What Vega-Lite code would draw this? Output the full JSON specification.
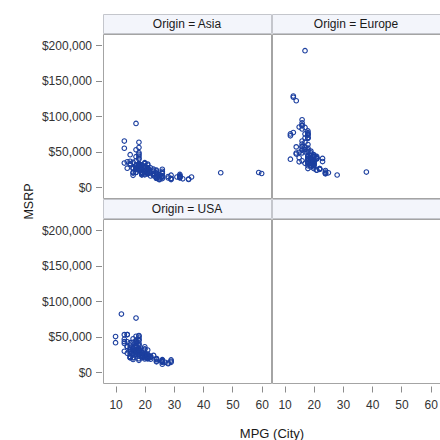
{
  "$schema": "https://vega.github.io/schema/vega-lite/v6.json",
  "background": "white",
  "padding": {"left": 21, "top": 13, "right": 0, "bottom": 0},
  "datasets": {
    "cars": [
      {"Origin":"Asia","MPG":17,"MSRP":36945},{"Origin":"Asia","MPG":24,"MSRP":23820},{"Origin":"Asia","MPG":22,"MSRP":26990},{"Origin":"Asia","MPG":20,"MSRP":33195},{"Origin":"Asia","MPG":18,"MSRP":43755},{"Origin":"Asia","MPG":18,"MSRP":46100},{"Origin":"Asia","MPG":17,"MSRP":89765},
      {"Origin":"Asia","MPG":46,"MSRP":20140},{"Origin":"Asia","MPG":60,"MSRP":19110},{"Origin":"Asia","MPG":36,"MSRP":14170},{"Origin":"Asia","MPG":32,"MSRP":13270},{"Origin":"Asia","MPG":32,"MSRP":15850},{"Origin":"Asia","MPG":32,"MSRP":17750},{"Origin":"Asia","MPG":26,"MSRP":19490},{"Origin":"Asia","MPG":26,"MSRP":19860},{"Origin":"Asia","MPG":26,"MSRP":22260},{"Origin":"Asia","MPG":21,"MSRP":26960},{"Origin":"Asia","MPG":21,"MSRP":23760},{"Origin":"Asia","MPG":21,"MSRP":18690},{"Origin":"Asia","MPG":21,"MSRP":19860},{"Origin":"Asia","MPG":17,"MSRP":27560},{"Origin":"Asia","MPG":18,"MSRP":24950},{"Origin":"Asia","MPG":18,"MSRP":27450},{"Origin":"Asia","MPG":20,"MSRP":33260},
      {"Origin":"Asia","MPG":29,"MSRP":10539},{"Origin":"Asia","MPG":29,"MSRP":11839},{"Origin":"Asia","MPG":29,"MSRP":11939},{"Origin":"Asia","MPG":26,"MSRP":13839},{"Origin":"Asia","MPG":26,"MSRP":15389},{"Origin":"Asia","MPG":26,"MSRP":15589},{"Origin":"Asia","MPG":19,"MSRP":19339},{"Origin":"Asia","MPG":19,"MSRP":20339},{"Origin":"Asia","MPG":17,"MSRP":24589},{"Origin":"Asia","MPG":17,"MSRP":26189},{"Origin":"Asia","MPG":20,"MSRP":21589},{"Origin":"Asia","MPG":19,"MSRP":18739},
      {"Origin":"Asia","MPG":18,"MSRP":28495},{"Origin":"Asia","MPG":18,"MSRP":29795},{"Origin":"Asia","MPG":18,"MSRP":32445},{"Origin":"Asia","MPG":19,"MSRP":31145},{"Origin":"Asia","MPG":17,"MSRP":42845},{"Origin":"Asia","MPG":17,"MSRP":52545},{"Origin":"Asia","MPG":16,"MSRP":34895},{"Origin":"Asia","MPG":15,"MSRP":36395},
      {"Origin":"Asia","MPG":15,"MSRP":31849},{"Origin":"Asia","MPG":17,"MSRP":20449},
      {"Origin":"Asia","MPG":23,"MSRP":16040},{"Origin":"Asia","MPG":20,"MSRP":18435},{"Origin":"Asia","MPG":25,"MSRP":10280},{"Origin":"Asia","MPG":26,"MSRP":11905},{"Origin":"Asia","MPG":24,"MSRP":12360},{"Origin":"Asia","MPG":24,"MSRP":13580},{"Origin":"Asia","MPG":24,"MSRP":14630},{"Origin":"Asia","MPG":16,"MSRP":19635},{"Origin":"Asia","MPG":16,"MSRP":20615},{"Origin":"Asia","MPG":17,"MSRP":26000},{"Origin":"Asia","MPG":25,"MSRP":11155},
      {"Origin":"Asia","MPG":21,"MSRP":32350},{"Origin":"Asia","MPG":18,"MSRP":41010},{"Origin":"Asia","MPG":18,"MSRP":48450},{"Origin":"Asia","MPG":18,"MSRP":55750},{"Origin":"Asia","MPG":18,"MSRP":31045},{"Origin":"Asia","MPG":18,"MSRP":32415},{"Origin":"Asia","MPG":18,"MSRP":32455},{"Origin":"Asia","MPG":18,"MSRP":63200},{"Origin":"Asia","MPG":15,"MSRP":45700},{"Origin":"Asia","MPG":13,"MSRP":64800},{"Origin":"Asia","MPG":18,"MSRP":39195},
      {"Origin":"Asia","MPG":19,"MSRP":21087},{"Origin":"Asia","MPG":26,"MSRP":15500},{"Origin":"Asia","MPG":25,"MSRP":17200},{"Origin":"Asia","MPG":24,"MSRP":19270},{"Origin":"Asia","MPG":18,"MSRP":28750},{"Origin":"Asia","MPG":23,"MSRP":22388},{"Origin":"Asia","MPG":23,"MSRP":25193},{"Origin":"Asia","MPG":18,"MSRP":25700},{"Origin":"Asia","MPG":18,"MSRP":27200},{"Origin":"Asia","MPG":24,"MSRP":14840},{"Origin":"Asia","MPG":17,"MSRP":29340},
      {"Origin":"Asia","MPG":15,"MSRP":33112},{"Origin":"Asia","MPG":21,"MSRP":18892},{"Origin":"Asia","MPG":17,"MSRP":30492},{"Origin":"Asia","MPG":25,"MSRP":14622},{"Origin":"Asia","MPG":25,"MSRP":16722},{"Origin":"Asia","MPG":23,"MSRP":19312},{"Origin":"Asia","MPG":18,"MSRP":25700},{"Origin":"Asia","MPG":18,"MSRP":29282},{"Origin":"Asia","MPG":18,"MSRP":29562},{"Origin":"Asia","MPG":25,"MSRP":17232},{"Origin":"Asia","MPG":25,"MSRP":17495},{"Origin":"Asia","MPG":21,"MSRP":25092},{"Origin":"Asia","MPG":21,"MSRP":26992},
      {"Origin":"Asia","MPG":28,"MSRP":12740},{"Origin":"Asia","MPG":28,"MSRP":14740},{"Origin":"Asia","MPG":23,"MSRP":17640},{"Origin":"Asia","MPG":21,"MSRP":19240},{"Origin":"Asia","MPG":21,"MSRP":23290},{"Origin":"Asia","MPG":20,"MSRP":27490},{"Origin":"Asia","MPG":20,"MSRP":29440},{"Origin":"Asia","MPG":19,"MSRP":24780},{"Origin":"Asia","MPG":18,"MSRP":32780},{"Origin":"Asia","MPG":20,"MSRP":26910},{"Origin":"Asia","MPG":20,"MSRP":34390},{"Origin":"Asia","MPG":16,"MSRP":27339},{"Origin":"Asia","MPG":13,"MSRP":33840},{"Origin":"Asia","MPG":17,"MSRP":20939},{"Origin":"Asia","MPG":20,"MSRP":28739},{"Origin":"Asia","MPG":19,"MSRP":17184},{"Origin":"Asia","MPG":14,"MSRP":26650},
      {"Origin":"Asia","MPG":32,"MSRP":12965},{"Origin":"Asia","MPG":31,"MSRP":14165},
      {"Origin":"Asia","MPG":22,"MSRP":19945},{"Origin":"Asia","MPG":21,"MSRP":20445},{"Origin":"Asia","MPG":21,"MSRP":25645},{"Origin":"Asia","MPG":21,"MSRP":23895},{"Origin":"Asia","MPG":19,"MSRP":27145},{"Origin":"Asia","MPG":18,"MSRP":29345},{"Origin":"Asia","MPG":18,"MSRP":31545},{"Origin":"Asia","MPG":20,"MSRP":25045},{"Origin":"Asia","MPG":18,"MSRP":31845},{"Origin":"Asia","MPG":21,"MSRP":20645},{"Origin":"Asia","MPG":21,"MSRP":24520},
      {"Origin":"Asia","MPG":25,"MSRP":12884},{"Origin":"Asia","MPG":25,"MSRP":14500},{"Origin":"Asia","MPG":24,"MSRP":16497},{"Origin":"Asia","MPG":24,"MSRP":12269},{"Origin":"Asia","MPG":22,"MSRP":15568},{"Origin":"Asia","MPG":20,"MSRP":17262},{"Origin":"Asia","MPG":19,"MSRP":17163},{"Origin":"Asia","MPG":18,"MSRP":23699},
      {"Origin":"Asia","MPG":59,"MSRP":20510},{"Origin":"Asia","MPG":32,"MSRP":14085},{"Origin":"Asia","MPG":32,"MSRP":15030},{"Origin":"Asia","MPG":32,"MSRP":15295},{"Origin":"Asia","MPG":35,"MSRP":10760},{"Origin":"Asia","MPG":33,"MSRP":11560},{"Origin":"Asia","MPG":35,"MSRP":11290},{"Origin":"Asia","MPG":24,"MSRP":19560},{"Origin":"Asia","MPG":21,"MSRP":22775},{"Origin":"Asia","MPG":21,"MSRP":25920},{"Origin":"Asia","MPG":24,"MSRP":19635},{"Origin":"Asia","MPG":21,"MSRP":21965},{"Origin":"Asia","MPG":21,"MSRP":26510},{"Origin":"Asia","MPG":21,"MSRP":26560},{"Origin":"Asia","MPG":21,"MSRP":30920},{"Origin":"Asia","MPG":24,"MSRP":22570},{"Origin":"Asia","MPG":26,"MSRP":25130},{"Origin":"Asia","MPG":29,"MSRP":16695},{"Origin":"Asia","MPG":19,"MSRP":23495},{"Origin":"Asia","MPG":19,"MSRP":28800},{"Origin":"Asia","MPG":22,"MSRP":20290},{"Origin":"Asia","MPG":18,"MSRP":27930},{"Origin":"Asia","MPG":18,"MSRP":27710},{"Origin":"Asia","MPG":14,"MSRP":35695},{"Origin":"Asia","MPG":13,"MSRP":54765},{"Origin":"Asia","MPG":24,"MSRP":12800},{"Origin":"Asia","MPG":16,"MSRP":16495},{"Origin":"Asia","MPG":16,"MSRP":25935},

      {"Origin":"Europe","MPG":22,"MSRP":25940},{"Origin":"Europe","MPG":23,"MSRP":35940},{"Origin":"Europe","MPG":20,"MSRP":31840},{"Origin":"Europe","MPG":17,"MSRP":33430},{"Origin":"Europe","MPG":18,"MSRP":34480},{"Origin":"Europe","MPG":20,"MSRP":36640},{"Origin":"Europe","MPG":18,"MSRP":39640},{"Origin":"Europe","MPG":20,"MSRP":42490},{"Origin":"Europe","MPG":18,"MSRP":44240},{"Origin":"Europe","MPG":18,"MSRP":42840},{"Origin":"Europe","MPG":17,"MSRP":49690},{"Origin":"Europe","MPG":17,"MSRP":69190},{"Origin":"Europe","MPG":14,"MSRP":48040},{"Origin":"Europe","MPG":15,"MSRP":84600},{"Origin":"Europe","MPG":20,"MSRP":35940},{"Origin":"Europe","MPG":20,"MSRP":37390},{"Origin":"Europe","MPG":21,"MSRP":40590},{"Origin":"Europe","MPG":18,"MSRP":40840},{"Origin":"Europe","MPG":15,"MSRP":49090},
      {"Origin":"Europe","MPG":16,"MSRP":37000},{"Origin":"Europe","MPG":16,"MSRP":52195},{"Origin":"Europe","MPG":20,"MSRP":28495},{"Origin":"Europe","MPG":20,"MSRP":30795},{"Origin":"Europe","MPG":19,"MSRP":30245},{"Origin":"Europe","MPG":20,"MSRP":35495},{"Origin":"Europe","MPG":20,"MSRP":36995},{"Origin":"Europe","MPG":20,"MSRP":37245},{"Origin":"Europe","MPG":19,"MSRP":39995},{"Origin":"Europe","MPG":19,"MSRP":44295},{"Origin":"Europe","MPG":20,"MSRP":44995},{"Origin":"Europe","MPG":18,"MSRP":54995},{"Origin":"Europe","MPG":18,"MSRP":69195},{"Origin":"Europe","MPG":18,"MSRP":73195},{"Origin":"Europe","MPG":16,"MSRP":48195},{"Origin":"Europe","MPG":16,"MSRP":56595},{"Origin":"Europe","MPG":20,"MSRP":33895},{"Origin":"Europe","MPG":21,"MSRP":41045},{"Origin":"Europe","MPG":19,"MSRP":32845},{"Origin":"Europe","MPG":19,"MSRP":37995},
      {"Origin":"Europe","MPG":18,"MSRP":29995},{"Origin":"Europe","MPG":18,"MSRP":33995},{"Origin":"Europe","MPG":18,"MSRP":43895},{"Origin":"Europe","MPG":18,"MSRP":49995},{"Origin":"Europe","MPG":17,"MSRP":63120},{"Origin":"Europe","MPG":18,"MSRP":68995},{"Origin":"Europe","MPG":18,"MSRP":59995},{"Origin":"Europe","MPG":17,"MSRP":74995},{"Origin":"Europe","MPG":18,"MSRP":69995},{"Origin":"Europe","MPG":18,"MSRP":74995},{"Origin":"Europe","MPG":16,"MSRP":81995},{"Origin":"Europe","MPG":16,"MSRP":86995},
      {"Origin":"Europe","MPG":12,"MSRP":72250},{"Origin":"Europe","MPG":12,"MSRP":39250},{"Origin":"Europe","MPG":18,"MSRP":25995},
      {"Origin":"Europe","MPG":13,"MSRP":76870},{"Origin":"Europe","MPG":14,"MSRP":46470},{"Origin":"Europe","MPG":20,"MSRP":26060},{"Origin":"Europe","MPG":19,"MSRP":28370},{"Origin":"Europe","MPG":20,"MSRP":32280},{"Origin":"Europe","MPG":19,"MSRP":33480},{"Origin":"Europe","MPG":19,"MSRP":35920},{"Origin":"Europe","MPG":20,"MSRP":37630},{"Origin":"Europe","MPG":16,"MSRP":52120},{"Origin":"Europe","MPG":19,"MSRP":38830},{"Origin":"Europe","MPG":16,"MSRP":94820},{"Origin":"Europe","MPG":13,"MSRP":128420},{"Origin":"Europe","MPG":20,"MSRP":45707},{"Origin":"Europe","MPG":17,"MSRP":52800},{"Origin":"Europe","MPG":19,"MSRP":48170},{"Origin":"Europe","MPG":16,"MSRP":57270},{"Origin":"Europe","MPG":18,"MSRP":74320},{"Origin":"Europe","MPG":16,"MSRP":86970},{"Origin":"Europe","MPG":16,"MSRP":90520},{"Origin":"Europe","MPG":14,"MSRP":121770},{"Origin":"Europe","MPG":13,"MSRP":126670},{"Origin":"Europe","MPG":23,"MSRP":40320},{"Origin":"Europe","MPG":17,"MSRP":56170},{"Origin":"Europe","MPG":19,"MSRP":33780},{"Origin":"Europe","MPG":19,"MSRP":50670},{"Origin":"Europe","MPG":16,"MSRP":60670},
      {"Origin":"Europe","MPG":28,"MSRP":16999},{"Origin":"Europe","MPG":25,"MSRP":19999},
      {"Origin":"Europe","MPG":14,"MSRP":56665},{"Origin":"Europe","MPG":18,"MSRP":79165},{"Origin":"Europe","MPG":17,"MSRP":84165},{"Origin":"Europe","MPG":18,"MSRP":76765},{"Origin":"Europe","MPG":17,"MSRP":192465},{"Origin":"Europe","MPG":20,"MSRP":43365},{"Origin":"Europe","MPG":18,"MSRP":52365},
      {"Origin":"Europe","MPG":20,"MSRP":30860},{"Origin":"Europe","MPG":20,"MSRP":33360},{"Origin":"Europe","MPG":18,"MSRP":35105},{"Origin":"Europe","MPG":21,"MSRP":39465},{"Origin":"Europe","MPG":21,"MSRP":40670},{"Origin":"Europe","MPG":21,"MSRP":43175},{"Origin":"Europe","MPG":19,"MSRP":40845},
      {"Origin":"Europe","MPG":15,"MSRP":35515},{"Origin":"Europe","MPG":24,"MSRP":18715},{"Origin":"Europe","MPG":24,"MSRP":19825},{"Origin":"Europe","MPG":38,"MSRP":21055},{"Origin":"Europe","MPG":24,"MSRP":21055},{"Origin":"Europe","MPG":21,"MSRP":23785},{"Origin":"Europe","MPG":24,"MSRP":23215},{"Origin":"Europe","MPG":21,"MSRP":23955},{"Origin":"Europe","MPG":18,"MSRP":33180},{"Origin":"Europe","MPG":18,"MSRP":39235},{"Origin":"Europe","MPG":16,"MSRP":65000},{"Origin":"Europe","MPG":12,"MSRP":75000},{"Origin":"Europe","MPG":24,"MSRP":19005},{"Origin":"Europe","MPG":22,"MSRP":24955},{"Origin":"Europe","MPG":18,"MSRP":40235},
      {"Origin":"Europe","MPG":15,"MSRP":41250},{"Origin":"Europe","MPG":22,"MSRP":25135},{"Origin":"Europe","MPG":20,"MSRP":31745},{"Origin":"Europe","MPG":20,"MSRP":34845},{"Origin":"Europe","MPG":18,"MSRP":37560},{"Origin":"Europe","MPG":20,"MSRP":37730},{"Origin":"Europe","MPG":20,"MSRP":37885},{"Origin":"Europe","MPG":21,"MSRP":40565},{"Origin":"Europe","MPG":20,"MSRP":42565},{"Origin":"Europe","MPG":19,"MSRP":45210},{"Origin":"Europe","MPG":22,"MSRP":26135},{"Origin":"Europe","MPG":20,"MSRP":35145},

      {"Origin":"USA","MPG":15,"MSRP":37895},{"Origin":"USA","MPG":19,"MSRP":26545},{"Origin":"USA","MPG":20,"MSRP":22180},{"Origin":"USA","MPG":20,"MSRP":26470},{"Origin":"USA","MPG":20,"MSRP":24895},{"Origin":"USA","MPG":18,"MSRP":28345},{"Origin":"USA","MPG":20,"MSRP":32245},{"Origin":"USA","MPG":20,"MSRP":35545},{"Origin":"USA","MPG":18,"MSRP":40720},
      {"Origin":"USA","MPG":14,"MSRP":52795},{"Origin":"USA","MPG":16,"MSRP":46995},{"Origin":"USA","MPG":18,"MSRP":30835},{"Origin":"USA","MPG":18,"MSRP":45445},{"Origin":"USA","MPG":18,"MSRP":50595},{"Origin":"USA","MPG":18,"MSRP":47955},{"Origin":"USA","MPG":17,"MSRP":76200},{"Origin":"USA","MPG":14,"MSRP":52975},
      {"Origin":"USA","MPG":14,"MSRP":42735},{"Origin":"USA","MPG":15,"MSRP":41465},{"Origin":"USA","MPG":16,"MSRP":30295},{"Origin":"USA","MPG":19,"MSRP":20255},{"Origin":"USA","MPG":28,"MSRP":11690},{"Origin":"USA","MPG":28,"MSRP":12585},{"Origin":"USA","MPG":26,"MSRP":14610},{"Origin":"USA","MPG":26,"MSRP":14810},{"Origin":"USA","MPG":26,"MSRP":16385},{"Origin":"USA","MPG":21,"MSRP":21900},{"Origin":"USA","MPG":24,"MSRP":18995},{"Origin":"USA","MPG":22,"MSRP":20370},{"Origin":"USA","MPG":21,"MSRP":21825},{"Origin":"USA","MPG":20,"MSRP":25000},{"Origin":"USA","MPG":18,"MSRP":27995},{"Origin":"USA","MPG":23,"MSRP":23495},{"Origin":"USA","MPG":18,"MSRP":24225},{"Origin":"USA","MPG":14,"MSRP":26395},{"Origin":"USA","MPG":19,"MSRP":27020},{"Origin":"USA","MPG":18,"MSRP":44535},{"Origin":"USA","MPG":18,"MSRP":51535},{"Origin":"USA","MPG":14,"MSRP":36100},{"Origin":"USA","MPG":18,"MSRP":18760},{"Origin":"USA","MPG":15,"MSRP":20310},{"Origin":"USA","MPG":13,"MSRP":40340},{"Origin":"USA","MPG":16,"MSRP":41995},{"Origin":"USA","MPG":22,"MSRP":22225},
      {"Origin":"USA","MPG":22,"MSRP":17985},{"Origin":"USA","MPG":22,"MSRP":22000},{"Origin":"USA","MPG":18,"MSRP":25955},{"Origin":"USA","MPG":21,"MSRP":19090},{"Origin":"USA","MPG":21,"MSRP":21840},{"Origin":"USA","MPG":18,"MSRP":29865},{"Origin":"USA","MPG":19,"MSRP":24130},{"Origin":"USA","MPG":19,"MSRP":26860},{"Origin":"USA","MPG":21,"MSRP":25215},{"Origin":"USA","MPG":18,"MSRP":33295},{"Origin":"USA","MPG":21,"MSRP":30950},{"Origin":"USA","MPG":19,"MSRP":27490},{"Origin":"USA","MPG":18,"MSRP":38380},{"Origin":"USA","MPG":17,"MSRP":34495},{"Origin":"USA","MPG":17,"MSRP":31230},
      {"Origin":"USA","MPG":15,"MSRP":32235},{"Origin":"USA","MPG":29,"MSRP":13670},{"Origin":"USA","MPG":29,"MSRP":15040},{"Origin":"USA","MPG":21,"MSRP":22035},{"Origin":"USA","MPG":21,"MSRP":18820},{"Origin":"USA","MPG":21,"MSRP":20220},{"Origin":"USA","MPG":18,"MSRP":24885},{"Origin":"USA","MPG":20,"MSRP":21795},{"Origin":"USA","MPG":18,"MSRP":32660},{"Origin":"USA","MPG":12,"MSRP":81795},{"Origin":"USA","MPG":16,"MSRP":17630},{"Origin":"USA","MPG":16,"MSRP":20300},{"Origin":"USA","MPG":15,"MSRP":20215},
      {"Origin":"USA","MPG":10,"MSRP":41475},{"Origin":"USA","MPG":15,"MSRP":34560},{"Origin":"USA","MPG":15,"MSRP":29670},{"Origin":"USA","MPG":18,"MSRP":22515},{"Origin":"USA","MPG":26,"MSRP":13730},{"Origin":"USA","MPG":27,"MSRP":13730},{"Origin":"USA","MPG":26,"MSRP":15460},{"Origin":"USA","MPG":26,"MSRP":15580},{"Origin":"USA","MPG":21,"MSRP":19135},{"Origin":"USA","MPG":20,"MSRP":20320},{"Origin":"USA","MPG":19,"MSRP":22735},{"Origin":"USA","MPG":17,"MSRP":24345},{"Origin":"USA","MPG":17,"MSRP":27370},{"Origin":"USA","MPG":17,"MSRP":30315},{"Origin":"USA","MPG":26,"MSRP":17475},{"Origin":"USA","MPG":19,"MSRP":22290},{"Origin":"USA","MPG":17,"MSRP":26930},{"Origin":"USA","MPG":20,"MSRP":18345},{"Origin":"USA","MPG":18,"MSRP":29380},{"Origin":"USA","MPG":17,"MSRP":37530},{"Origin":"USA","MPG":15,"MSRP":22010},{"Origin":"USA","MPG":16,"MSRP":33540},{"Origin":"USA","MPG":24,"MSRP":14385},
      {"Origin":"USA","MPG":15,"MSRP":31890},{"Origin":"USA","MPG":14,"MSRP":35725},{"Origin":"USA","MPG":13,"MSRP":46265},{"Origin":"USA","MPG":16,"MSRP":25640},{"Origin":"USA","MPG":18,"MSRP":16530},{"Origin":"USA","MPG":16,"MSRP":25717},{"Origin":"USA","MPG":13,"MSRP":29322},{"Origin":"USA","MPG":15,"MSRP":25395},
      {"Origin":"USA","MPG":10,"MSRP":49995},
      {"Origin":"USA","MPG":15,"MSRP":27905},{"Origin":"USA","MPG":16,"MSRP":20130},{"Origin":"USA","MPG":16,"MSRP":25520},
      {"Origin":"USA","MPG":13,"MSRP":52775},{"Origin":"USA","MPG":13,"MSRP":42915},{"Origin":"USA","MPG":20,"MSRP":32495},{"Origin":"USA","MPG":18,"MSRP":36895},{"Origin":"USA","MPG":17,"MSRP":40095},{"Origin":"USA","MPG":17,"MSRP":43495},{"Origin":"USA","MPG":17,"MSRP":41815},{"Origin":"USA","MPG":17,"MSRP":44925},{"Origin":"USA","MPG":17,"MSRP":50470},
      {"Origin":"USA","MPG":16,"MSRP":29995},{"Origin":"USA","MPG":20,"MSRP":21595},{"Origin":"USA","MPG":17,"MSRP":24695},{"Origin":"USA","MPG":17,"MSRP":29595},{"Origin":"USA","MPG":19,"MSRP":23895},{"Origin":"USA","MPG":17,"MSRP":30895},{"Origin":"USA","MPG":20,"MSRP":22595},{"Origin":"USA","MPG":17,"MSRP":34495},{"Origin":"USA","MPG":16,"MSRP":33995},
      {"Origin":"USA","MPG":24,"MSRP":18825},{"Origin":"USA","MPG":21,"MSRP":23675},{"Origin":"USA","MPG":19,"MSRP":28790},
      {"Origin":"USA","MPG":19,"MSRP":21595},{"Origin":"USA","MPG":24,"MSRP":15495},{"Origin":"USA","MPG":24,"MSRP":17735},{"Origin":"USA","MPG":20,"MSRP":22450},{"Origin":"USA","MPG":20,"MSRP":22395},{"Origin":"USA","MPG":20,"MSRP":24295},{"Origin":"USA","MPG":17,"MSRP":35995},{"Origin":"USA","MPG":19,"MSRP":23845},{"Origin":"USA","MPG":18,"MSRP":31370},{"Origin":"USA","MPG":16,"MSRP":33500},{"Origin":"USA","MPG":29,"MSRP":17045},
      {"Origin":"USA","MPG":21,"MSRP":20585},{"Origin":"USA","MPG":26,"MSRP":10995},{"Origin":"USA","MPG":26,"MSRP":14300},{"Origin":"USA","MPG":26,"MSRP":15825},{"Origin":"USA","MPG":26,"MSRP":14850},{"Origin":"USA","MPG":26,"MSRP":16350},{"Origin":"USA","MPG":21,"MSRP":21410},{"Origin":"USA","MPG":21,"MSRP":23560}
    ]
  },
  "columns": 2,
  "spacing": {"row": 1, "column": 1},
  "bounds": "flush",
  "concat": [
    {
      "width": 168, "height": 19,
      "view": {"fill": "#f3f5fb", "stroke": "#c4c6cc"},
      "data": {"values": [{"label": "Origin = Asia"}]},
      "mark": {"type": "text", "font": "Liberation Sans", "fontSize": 12, "color": "#1a1a1a"},
      "encoding": {"text": {"field": "label"}}
    },
    {
      "width": 168, "height": 19,
      "view": {"fill": "#f3f5fb", "stroke": "#c4c6cc"},
      "data": {"values": [{"label": "Origin = Europe"}]},
      "mark": {"type": "text", "font": "Liberation Sans", "fontSize": 12, "color": "#1a1a1a"},
      "encoding": {"text": {"field": "label"}}
    },
    {
      "width": 168, "height": 164,
      "view": {"fill": "white", "stroke": "#a4a4a4"},
      "data": {"name": "cars"},
      "transform": [{"filter": "datum.Origin == 'Asia'"}],
      "mark": {"type": "point", "filled": false, "size": 21, "strokeWidth": 1.1, "color": "#1c3f9f", "opacity": 1},
      "encoding": {
        "x": {"field": "MPG", "type": "quantitative", "scale": {"domain": [5.7, 63.2], "nice": false, "zero": false}, "axis": null},
        "y": {"field": "MSRP", "type": "quantitative", "scale": {"domain": [-15500, 216000], "nice": false, "zero": false},
              "axis": {"values": [0, 50000, 100000, 150000, 200000], "format": "$,.0f", "title": "MSRP", "titleY": 167, "titlePadding": 6, "titleFontSize": 12.5, "offset": 1.5, "tickSize": 6, "labelPadding": 4}}
      }
    },
    {
      "width": 168, "height": 164,
      "view": {"fill": "white", "stroke": "#a4a4a4"},
      "data": {"name": "cars"},
      "transform": [{"filter": "datum.Origin == 'Europe'"}],
      "mark": {"type": "point", "filled": false, "size": 21, "strokeWidth": 1.1, "color": "#1c3f9f", "opacity": 1},
      "encoding": {
        "x": {"field": "MPG", "type": "quantitative", "scale": {"domain": [5.7, 63.2], "nice": false, "zero": false}, "axis": null},
        "y": {"field": "MSRP", "type": "quantitative", "scale": {"domain": [-15500, 216000], "nice": false, "zero": false}, "axis": null}
      }
    },
    {
      "width": 168, "height": 19,
      "view": {"fill": "#f3f5fb", "stroke": "#c4c6cc"},
      "data": {"values": [{"label": "Origin = USA"}]},
      "mark": {"type": "text", "font": "Liberation Sans", "fontSize": 12, "color": "#1a1a1a"},
      "encoding": {"text": {"field": "label"}}
    },
    {
      "width": 168, "height": 19,
      "view": {"fill": "#f3f5fb", "stroke": "#c4c6cc"},
      "data": {"values": [{"label": ""}]},
      "mark": {"type": "text", "font": "Liberation Sans", "fontSize": 12, "color": "#1a1a1a"},
      "encoding": {"text": {"field": "label"}}
    },
    {
      "width": 168, "height": 164,
      "view": {"fill": "white", "stroke": "#a4a4a4"},
      "data": {"name": "cars"},
      "transform": [{"filter": "datum.Origin == 'USA'"}],
      "mark": {"type": "point", "filled": false, "size": 21, "strokeWidth": 1.1, "color": "#1c3f9f", "opacity": 1},
      "encoding": {
        "x": {"field": "MPG", "type": "quantitative", "scale": {"domain": [5.7, 63.2], "nice": false, "zero": false},
              "axis": {"values": [10, 20, 30, 40, 50, 60], "format": "d", "title": "MPG (City)", "titleX": 168.5, "titlePadding": 17, "titleFontSize": 13, "offset": 3, "tickSize": 6, "labelPadding": 7}},
        "y": {"field": "MSRP", "type": "quantitative", "scale": {"domain": [-15500, 216000], "nice": false, "zero": false},
              "axis": {"values": [0, 50000, 100000, 150000, 200000], "format": "$,.0f", "title": null, "offset": 1.5, "tickSize": 6, "labelPadding": 4}}
      }
    },
    {
      "width": 168, "height": 164,
      "view": {"fill": "white", "stroke": "#a4a4a4"},
      "data": {"name": "cars"},
      "transform": [{"filter": "datum.Origin == 'None'"}],
      "mark": {"type": "point", "filled": false, "size": 21, "strokeWidth": 1.1, "color": "#1c3f9f"},
      "encoding": {
        "x": {"field": "MPG", "type": "quantitative", "scale": {"domain": [5.7, 63.2], "nice": false, "zero": false},
              "axis": {"values": [10, 20, 30, 40, 50, 60], "format": "d", "title": null, "offset": 3, "tickSize": 6, "labelPadding": 7}},
        "y": {"field": "MSRP", "type": "quantitative", "scale": {"domain": [-15500, 216000], "nice": false, "zero": false}, "axis": null}
      }
    }
  ],
  "config": {
    "font": "Liberation Sans",
    "axis": {
      "grid": false, "domain": false,
      "tickColor": "#8c8c8c", "tickWidth": 1,
      "labelFont": "Liberation Sans", "labelFontSize": 12, "labelColor": "#333333",
      "titleFont": "Liberation Sans", "titleFontWeight": "normal", "titleColor": "#1a1a1a"
    }
  }
}
